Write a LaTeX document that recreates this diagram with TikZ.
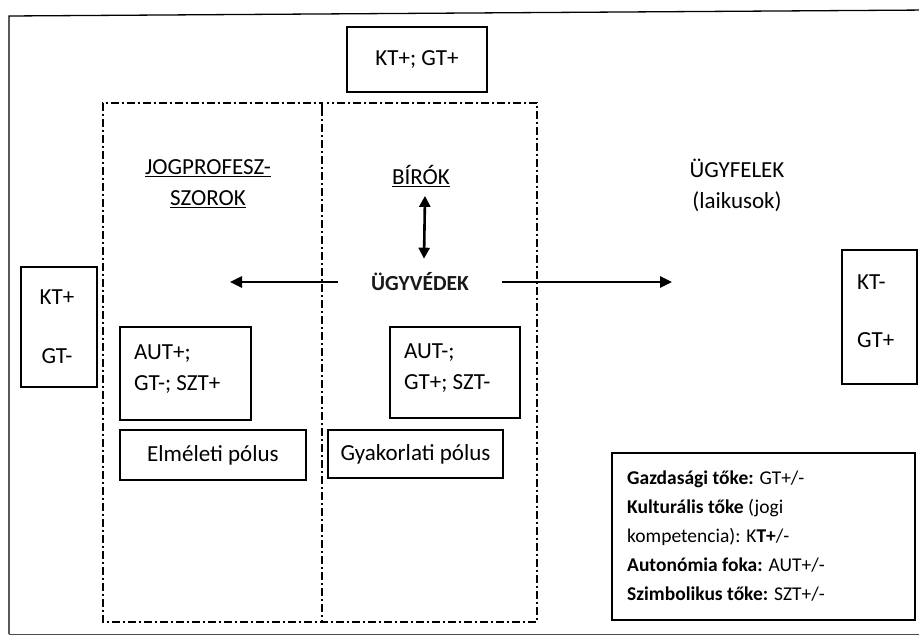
\documentclass[tikz,border=0pt]{standalone}
\usepackage{fontspec}
\setmainfont{Carlito}
\usetikzlibrary{arrows.meta}
\begin{document}
\begin{tikzpicture}[x=1pt,y=-1pt,
  box/.style={draw,line width=2.2pt},
  zone/.style={draw,line width=1.9pt,dash pattern=on 8pt off 3pt on 2pt off 3pt},
  lbl/.style={font=\fontsize{23}{31}\selectfont,inner sep=0pt},
  arr/.style={line width=2.6pt,-{Triangle[length=12pt,width=11pt]}},
  darr/.style={line width=2.6pt,{Triangle[length=11pt,width=11pt]}-{Triangle[length=11pt,width=11pt]}}]
\useasboundingbox (0,0) rectangle (919,637);
% outer frame
\draw[line width=1.3pt] (9,634) -- (9,16) -- (930,10);
\draw[line width=1pt,black!70] (9,634) -- (930,634);
% dash-dot zones
\draw[zone] (322,108) -- (322,103) -- (103,103) -- (103,622) -- (537,622) -- (537,103) -- (327,103);
\draw[zone] (322,108) -- (322,622);
% top box
\node[box,minimum width=140pt,minimum height=65pt,lbl] (top) at (417,59.5) {KT+; GT+};
% headings
\node[lbl,align=center] (jog) at (208,184) {\underline{JOGPROFESZ-}\\\underline{SZOROK}};
\node[lbl] (birok) at (421,176) {\underline{BÍRÓK}};
\node[lbl,font=\fontsize{21.5}{25}\selectfont\bfseries,text=black!90] (ugyv) at (420,282) {ÜGYVÉDEK};
\node[lbl,align=center] (ugyf) at (737,185) {ÜGYFELEK\\(laikusok)};
% arrows
\coordinate (lend) at (230,282);
\coordinate (rend) at (672,282);
\draw[arr] ([xshift=-33pt]ugyv.west) -- (lend);
\draw[arr] ([xshift=33pt]ugyv.east) -- (rend);
\draw[darr] ([shift={(4,9)}]birok.south) -- ([shift={(4,-14)}]ugyv.north);
% side boxes
\node[box,minimum width=76pt,minimum height=120pt] (kl) at (59,327) {};
\node[lbl,align=center] at (57,327) {KT+\\[28pt]GT-};
\node[box,minimum width=75pt,minimum height=134pt] (kr) at (879.5,317) {};
\node[lbl,anchor=west,align=left] at (857,311) {KT-\\[27pt]GT+};
% AUT boxes
\node[box,minimum width=131pt,minimum height=93pt] (a1) at (185.5,373.5) {};
\node[lbl,anchor=west,align=left] at (134,369) {AUT+;\\GT-; SZT+};
\node[box,minimum width=130pt,minimum height=91pt] (a2) at (455,372.5) {};
\node[lbl,anchor=west,align=left] at (404,368) {AUT-;\\GT+; SZT-};
% pole boxes
\node[box,minimum width=186pt,minimum height=50pt,lbl] (p1) at (213,455) {Elméleti pólus};
\node[box,minimum width=175pt,minimum height=48pt,lbl] (p2) at (415.5,454) {Gyakorlati pólus};
% legend
\node[box,minimum width=303pt,minimum height=167pt] (leg) at (763.5,536.5) {};
\node[lbl,anchor=west,align=left,font=\fontsize{19.5}{29}\selectfont] at (627,536) {\textbf{Gazdasági tőke:} GT+/-\\\textbf{Kulturális tőke} (jogi\\kompetencia): K\textbf{T+}/-\\\textbf{Autonómia foka:} AUT+/-\\\textbf{Szimbolikus tőke:} SZT+/-};
\end{tikzpicture}
\end{document}
